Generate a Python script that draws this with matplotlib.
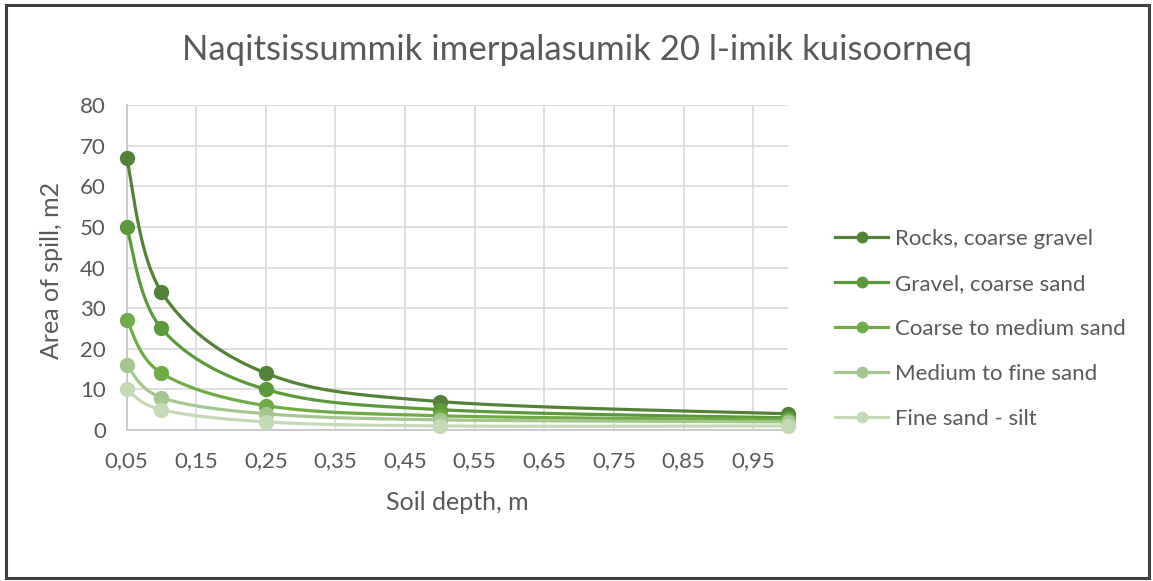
import matplotlib
matplotlib.use("Agg")
import matplotlib.pyplot as plt
import numpy as np
from matplotlib.patches import Rectangle

plt.rcParams['font.family'] = ['Lato', 'DejaVu Sans']

# data
depth = [0.05, 0.1, 0.25, 0.5, 1.0]
rocks = [67, 34, 14, 7, 4]
gravel = [50, 25, 10, 5, 3]
coarse_medium = [27, 14, 6, 3.5, 2.5]
medium_fine = [16, 8, 4, 2.5, 2]
fine_silt = [10, 5, 2, 1, 1]

series_names = ['Rocks, coarse gravel', 'Gravel, coarse sand', 'Coarse to medium sand',
                'Medium to fine sand', 'Fine sand - silt']
series_values = [rocks, gravel, coarse_medium, medium_fine, fine_silt]
colors = ['#538135', '#5B9A3A', '#6FAC46', '#A3C78F', '#C3DAB4']

x_ticks = [0.05, 0.15, 0.25, 0.35, 0.45, 0.55, 0.65, 0.75, 0.85, 0.95]
y_ticks = [0, 10, 20, 30, 40, 50, 60, 70, 80]

text_col = '#595959'
W, H = 1153, 581


def smooth(xs, ys, n=40):
    # Excel-like smoothed line (Catmull-Rom as cubic Bezier)
    p = np.column_stack([xs, ys]).astype(float)
    out = []
    for i in range(len(p) - 1):
        p0 = p[i - 1] if i > 0 else p[i]
        p1 = p[i]
        p2 = p[i + 1]
        p3 = p[i + 2] if i + 2 < len(p) else p[i + 1]
        c1 = p1 + (p2 - p0) / 6
        c2 = p2 - (p3 - p1) / 6
        t = np.linspace(0, 1, n)[:, None]
        seg = ((1 - t) ** 3) * p1 + 3 * ((1 - t) ** 2) * t * c1 + 3 * (1 - t) * t ** 2 * c2 + t ** 3 * p2
        out.append(seg if i == 0 else seg[1:])
    seg = np.vstack(out)
    return seg[:, 0], seg[:, 1]


fig = plt.figure(figsize=(W / 100, H / 100), dpi=100)
fig.patches.append(Rectangle((6 / W, 3 / H), 1143 / W, 573 / H, transform=fig.transFigure,
                             fill=False, edgecolor='#3f3f3f', linewidth=2.2))
ax = fig.add_axes([126.6 / W, 1 - 430 / H, (788 - 126.6) / W, 325 / H])

for name, vals, c in zip(series_names, series_values, colors):
    sx, sy = smooth(depth, vals)
    ax.plot(sx, sy, color=c, linewidth=2.3, solid_capstyle='round', zorder=3, clip_on=False)
    ax.plot(depth, vals, linestyle='none', marker='o', markersize=10, color=c, zorder=4, clip_on=False)
    ax.plot([], [], color=c, linewidth=2.3, marker='o', markersize=7.5, label=name)

ax.set_xlim(0.05, 1.0)
ax.set_ylim(0, 80)
ax.set_xticks(x_ticks)
ax.set_xticklabels([('%.2f' % v).replace('.', ',') for v in x_ticks])
ax.set_yticks(y_ticks)
ax.grid(True, color='#d9d9d9', linewidth=1.2, zorder=0)
ax.set_axisbelow(True)
for s in ['top', 'right']:
    ax.spines[s].set_visible(False)
for s in ['left', 'bottom']:
    ax.spines[s].set_color('#c8c8c8')
    ax.spines[s].set_linewidth(1.3)
ax.tick_params(length=0, labelsize=16, colors=text_col)
ax.tick_params(axis='x', pad=15)
ax.tick_params(axis='y', pad=15)

ax.set_xlabel('Soil depth, m', fontsize=18, color=text_col, va='center')
ax.xaxis.set_label_coords(0.5, -(502 - 430) / 325)
ax.set_ylabel('Area of spill, m2', fontsize=18, color=text_col, va='center')
ax.yaxis.set_label_coords(-(126.6 - 52) / 661.4, 0.49)

fig.text(577 / W, 1 - 50 / H, 'Naqitsissummik imerpalasumik 20 l-imik kuisoorneq',
         ha='center', va='center', fontsize=25, color=text_col)

ax.legend(loc='center left', bbox_to_anchor=(835 / W, 1 - 329 / H), bbox_transform=fig.transFigure,
          frameon=False, fontsize=16, labelcolor=text_col, handlelength=2.4, labelspacing=1.12,
          handletextpad=0.3, borderpad=0, borderaxespad=0)

fig.savefig('out.png', dpi=100)
